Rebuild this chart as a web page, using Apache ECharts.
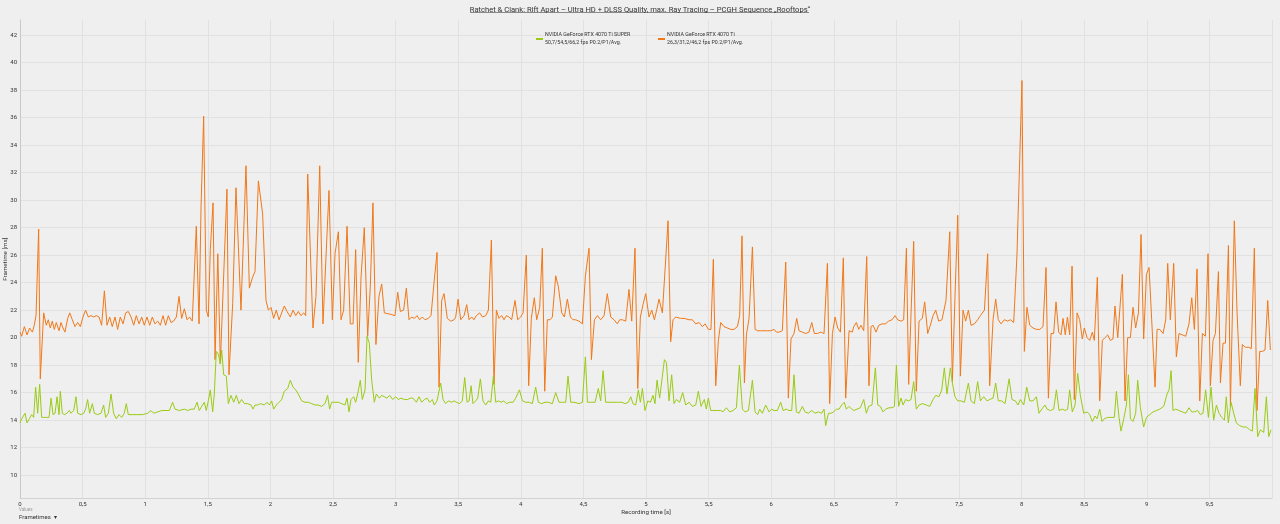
<!DOCTYPE html>
<html><head><meta charset="utf-8">
<script src="https://cdn.jsdelivr.net/npm/echarts@6/dist/echarts.min.js"></script>
<style>html,body{margin:0;padding:0;background:#efefef}#c{width:1280px;height:524px}</style>
</head><body><div id="c"></div>
<script>
const titleText = 'Ratchet & Clank: Rift Apart – Ultra HD + DLSS Quality, max. Ray Tracing – PCGH Sequence „Rooftops“';
const seriesNames = ['NVIDIA GeForce RTX 4070 Ti SUPER', 'NVIDIA GeForce RTX 4070 Ti'];
const seriesStats = ['50,7/54,5/66,2 fps P0.2/P1/Avg.', '26,3/31,2/46,2 fps P0.2/P1/Avg.'];
const yTicks = [10,12,14,16,18,20,22,24,26,28,30,32,34,36,38,40,42];

const orangeT = [0.000,0.013,0.035,0.056,0.077,0.099,0.114,0.128,0.149,0.162,0.189,0.210,0.226,0.242,0.258,0.274,0.290,0.312,0.327,0.343,0.359,0.381,0.397,0.418,0.439,0.461,0.482,0.503,0.524,0.546,0.567,0.588,0.610,0.631,0.652,0.674,0.695,0.716,0.737,0.759,0.780,0.801,0.823,0.844,0.865,0.887,0.908,0.929,0.951,0.972,0.993,1.014,1.036,1.057,1.078,1.100,1.121,1.142,1.163,1.185,1.206,1.227,1.249,1.270,1.291,1.313,1.334,1.355,1.376,1.408,1.430,1.446,1.467,1.488,1.504,1.520,1.542,1.558,1.580,1.600,1.653,1.669,1.699,1.725,1.765,1.805,1.832,1.858,1.877,1.904,1.938,1.965,1.984,2.005,2.026,2.047,2.069,2.090,2.111,2.133,2.159,2.181,2.202,2.223,2.244,2.266,2.282,2.298,2.340,2.364,2.394,2.420,2.468,2.495,2.516,2.543,2.564,2.585,2.612,2.638,2.660,2.681,2.702,2.724,2.750,2.777,2.798,2.819,2.843,2.867,2.889,2.910,2.958,2.995,3.017,3.038,3.064,3.086,3.107,3.128,3.150,3.171,3.192,3.213,3.235,3.261,3.283,3.309,3.331,
3.347,3.368,3.387,3.413,3.440,3.467,3.480,3.499,3.520,3.547,3.568,3.587,3.608,3.626,3.645,3.672,3.693,3.720,3.741,3.765,3.786,3.805,3.826,3.847,3.866,3.885,3.906,3.927,3.954,3.975,3.999,4.018,4.044,4.063,4.084,4.108,4.127,4.151,4.172,4.191,4.212,4.234,4.252,4.279,4.300,4.327,4.348,4.372,4.396,4.417,4.438,4.465,4.492,4.516,4.545,4.564,4.588,4.612,4.638,4.665,4.691,4.718,4.745,4.771,4.790,4.811,4.838,4.864,4.886,4.912,4.934,4.955,4.976,4.998,5.024,5.046,5.067,5.085,5.104,5.131,5.176,5.197,5.216,5.237,5.277,5.304,5.344,5.370,5.397,5.424,5.450,5.472,5.498,5.519,5.538,5.557,5.578,5.597,5.623,5.650,5.677,5.703,5.730,5.748,5.767,5.786,5.802,5.823,5.850,5.871,5.892,5.916,5.943,5.969,5.996,6.023,6.041,6.063,6.089,6.116,6.137,6.158,6.182,6.204,6.222,6.249,6.276,6.302,6.324,6.345,6.369,6.395,6.422,6.449,6.467,6.489,6.510,6.531,6.553,6.576,6.595,6.622,6.648,
6.659,6.680,6.699,6.717,6.739,6.763,6.781,6.797,6.813,6.837,6.859,6.885,6.912,6.938,6.965,6.989,7.010,7.037,7.058,7.080,7.098,7.117,7.138,7.159,7.181,7.207,7.226,7.250,7.271,7.293,7.314,7.338,7.364,7.396,7.426,7.447,7.468,7.490,7.511,7.532,7.553,7.575,7.596,7.623,7.649,7.671,7.703,7.729,7.745,7.772,7.793,7.814,7.836,7.862,7.889,7.910,7.937,7.963,7.985,8.003,8.022,8.043,8.065,8.091,8.118,8.145,8.171,8.195,8.214,8.235,8.256,8.275,8.296,8.315,8.331,8.349,8.366,8.384,8.403,8.421,8.443,8.464,8.485,8.501,8.523,8.544,8.565,8.581,8.605,8.624,8.645,8.666,8.688,8.709,8.730,8.746,8.768,8.783,8.805,8.826,8.847,8.869,8.890,8.911,8.933,8.954,8.975,8.997,9.018,9.039,9.066,9.082,9.103,9.130,9.151,9.167,9.188,9.215,9.236,9.257,9.284,9.311,9.337,9.359,9.380,9.401,9.423,9.444,9.468,9.489,9.508,9.529,9.548,9.572,9.588,9.609,9.628,9.652,9.668,9.699,9.721,9.747,9.763,9.787,9.814,9.835,9.859,9.880,9.902,9.923,9.944,9.966,9.987];
const orangeV = [20.4,20.1,20.8,20.2,20.7,20.4,20.9,21.6,27.9,17.0,21.8,20.9,21.3,20.7,21.2,20.6,21.1,20.5,21.1,20.7,20.4,21.4,21.8,21.3,20.8,21.1,20.8,21.5,22.0,21.5,21.6,21.5,21.6,21.5,20.9,23.4,20.9,21.5,20.8,21.5,20.6,21.5,21.0,21.8,21.9,21.5,20.9,21.6,21.0,21.5,20.9,21.5,20.9,21.5,21.0,21.2,20.9,21.6,20.9,21.6,21.1,21.2,21.5,23.0,21.4,22.1,21.3,21.5,21.2,28.1,21.0,29.5,36.1,22.0,21.5,26.4,29.8,18.4,26.1,18.1,30.8,17.3,22.5,30.9,22.0,32.5,23.6,24.4,24.8,31.4,29.0,22.7,22.0,22.2,21.4,22.0,21.3,21.8,22.3,21.9,21.5,22.0,21.6,21.9,21.6,21.8,21.6,31.9,20.7,23.0,32.5,21.0,30.7,21.3,26.1,27.7,21.3,22.0,28.1,21.0,21.0,26.4,18.2,24.4,28.0,20.1,23.7,29.8,19.5,23.0,23.9,21.8,21.7,21.6,23.3,21.9,22.0,23.6,21.3,21.5,21.4,21.6,21.3,21.5,21.3,21.4,21.6,24.2,26.2,
16.4,22.7,23.2,21.4,21.2,21.3,21.5,22.8,21.3,21.6,22.4,21.3,21.5,21.3,21.6,21.8,21.5,21.6,22.0,27.1,16.6,22.0,21.4,21.6,21.3,21.6,21.5,21.3,22.7,21.3,21.5,21.8,26.0,16.5,21.4,22.9,21.3,22.2,26.5,16.1,21.3,21.3,21.5,24.5,23.7,21.8,21.5,22.8,21.5,21.3,21.3,21.2,21.0,24.5,26.5,18.4,21.3,21.6,21.3,21.6,23.2,21.5,21.3,21.0,21.3,21.3,21.2,23.5,21.2,26.5,16.3,21.5,22.4,23.2,21.5,22.0,21.3,22.0,22.8,21.8,28.5,19.7,21.3,21.5,21.4,21.4,21.3,21.3,21.0,21.1,20.8,21.0,20.6,20.6,25.7,16.5,19.8,21.1,20.8,20.7,20.6,20.6,20.8,21.6,27.4,16.7,20.2,21.4,26.6,20.6,20.5,20.5,20.5,20.5,20.5,20.6,20.4,20.4,20.5,25.5,15.6,19.9,20.3,21.4,20.5,20.4,20.3,20.4,21.1,20.3,20.3,20.4,20.3,25.4,15.2,20.3,21.5,20.7,20.4,25.8,15.6,20.5,20.4,
20.8,21.1,20.6,20.9,20.5,25.9,16.5,20.8,20.9,20.4,20.9,21.0,21.0,21.2,21.3,21.6,21.3,21.2,21.3,26.5,16.6,21.8,27.0,16.1,21.2,21.4,22.6,20.3,20.9,21.6,22.0,21.2,21.3,22.7,27.7,16.8,23.0,28.9,17.2,22.0,21.2,22.0,20.9,21.0,21.3,21.6,22.0,26.1,16.5,21.3,22.8,21.3,21.0,21.3,21.2,21.3,21.1,26.0,33.0,38.7,19.0,22.2,20.9,20.7,20.6,20.6,20.8,25.1,15.6,20.3,20.3,22.6,20.4,20.2,21.4,20.2,21.5,20.2,25.2,15.5,21.8,21.3,19.9,20.7,20.0,19.8,20.4,19.8,24.4,15.4,19.8,20.0,20.2,19.8,19.9,22.3,20.0,19.9,24.6,15.4,20.0,20.0,22.2,20.7,21.8,27.5,19.9,24.6,25.1,21.3,16.4,20.6,20.6,20.3,21.3,25.4,21.3,25.4,18.6,20.3,20.2,20.1,21.0,22.9,20.6,25.0,15.4,20.3,20.1,26.1,16.5,19.8,20.3,24.8,16.7,19.6,19.6,26.7,15.0,28.5,21.8,16.5,19.5,19.3,19.3,19.2,26.5,14.7,19.0,19.0,19.1,22.7,19.1];

const greenT = [0.000,0.008,0.021,0.040,0.056,0.075,0.093,0.109,0.125,0.141,0.157,0.173,0.194,0.216,0.232,0.248,0.264,0.280,0.296,0.312,0.322,0.338,0.354,0.375,0.394,0.407,0.429,0.447,0.461,0.487,0.509,0.524,0.540,0.556,0.578,0.594,0.620,0.647,0.668,0.684,0.706,0.727,0.748,0.769,0.791,0.812,0.833,0.849,0.865,0.900,0.940,0.980,1.020,1.046,1.068,1.100,1.132,1.166,1.193,1.219,1.238,1.273,1.313,1.339,1.366,1.392,1.414,1.432,1.451,1.472,1.488,1.504,1.520,1.539,1.552,1.568,1.584,1.600,1.611,1.627,1.648,1.664,1.685,1.707,1.728,1.749,1.770,1.792,1.818,1.845,1.861,1.877,1.898,1.920,1.952,1.973,1.992,2.010,2.026,2.047,2.069,2.090,2.111,2.138,2.159,2.181,2.202,2.223,2.250,2.276,2.303,2.330,2.356,2.383,2.409,2.436,2.457,2.473,2.489,2.516,2.543,2.569,2.596,2.612,2.628,2.644,2.665,2.681,2.697,2.718,2.734,2.756,2.772,2.790,2.809,2.830,2.846,2.870,2.889,2.910,2.931,2.953,2.977,3.001,3.022,3.043,3.070,3.096,3.118,3.139,3.166,3.187,3.208,3.230,3.251,3.272,3.293,3.309,3.331,
3.342,3.360,3.379,3.400,3.421,3.448,3.467,3.485,3.512,3.533,3.552,3.571,3.587,3.603,3.618,3.640,3.656,3.677,3.698,3.720,3.741,3.760,3.781,3.800,3.821,3.842,3.863,3.885,3.911,3.938,3.959,3.989,4.013,4.039,4.066,4.092,4.119,4.140,4.167,4.194,4.220,4.252,4.279,4.305,4.332,4.359,4.377,4.399,4.425,4.465,4.492,4.516,4.532,4.558,4.593,4.619,4.638,4.657,4.678,4.705,4.745,4.779,4.806,4.833,4.859,4.878,4.896,4.918,4.939,4.955,4.971,4.992,5.014,5.035,5.056,5.072,5.088,5.109,5.131,5.147,5.163,5.184,5.205,5.224,5.243,5.269,5.293,5.317,5.344,5.370,5.397,5.418,5.440,5.466,5.482,5.498,5.517,5.543,5.570,5.597,5.615,5.642,5.668,5.695,5.722,5.746,5.770,5.791,5.818,5.850,5.871,5.892,5.908,5.929,5.956,5.983,6.004,6.023,6.049,6.076,6.095,6.121,6.142,6.164,6.182,6.201,6.222,6.249,6.270,6.297,6.324,6.350,6.377,6.403,6.422,6.435,6.457,6.478,6.499,6.520,6.542,6.563,6.584,6.600,6.622,6.643,
6.659,6.686,6.712,6.739,6.760,6.779,6.805,6.832,6.851,6.872,6.893,6.914,6.941,6.965,6.984,7.000,7.018,7.037,7.053,7.074,7.096,7.117,7.138,7.159,7.181,7.207,7.239,7.266,7.293,7.314,7.340,7.362,7.383,7.404,7.431,7.447,7.468,7.490,7.516,7.543,7.575,7.596,7.623,7.649,7.671,7.697,7.724,7.745,7.772,7.793,7.814,7.841,7.868,7.900,7.923,7.950,7.971,7.990,8.017,8.041,8.065,8.091,8.118,8.139,8.161,8.187,8.203,8.230,8.256,8.278,8.299,8.326,8.347,8.368,8.384,8.405,8.427,8.448,8.469,8.496,8.523,8.544,8.565,8.587,8.603,8.624,8.642,8.661,8.688,8.714,8.741,8.757,8.778,8.794,8.816,8.837,8.853,8.869,8.890,8.911,8.927,8.949,8.975,8.997,9.023,9.050,9.077,9.103,9.135,9.162,9.178,9.194,9.209,9.231,9.257,9.284,9.311,9.337,9.359,9.380,9.407,9.428,9.449,9.470,9.492,9.513,9.534,9.556,9.577,9.598,9.620,9.635,9.651,9.673,9.694,9.715,9.742,9.769,9.795,9.822,9.843,9.864,9.886,9.907,9.934,9.955,9.974,9.992];
const greenV = [13.8,14.0,13.9,14.5,13.8,14.1,14.4,14.2,16.4,14.5,16.6,14.2,14.2,14.2,14.2,15.6,14.4,14.5,15.7,14.4,16.1,14.5,14.4,14.5,14.7,14.5,14.7,15.7,14.5,14.4,14.5,14.8,15.5,14.5,15.2,14.5,14.4,14.5,15.1,14.2,14.5,15.9,14.5,14.1,14.4,14.2,14.5,15.2,14.4,14.4,14.4,14.4,14.5,14.7,14.5,14.6,14.7,14.7,14.7,15.3,14.8,14.7,14.8,14.7,14.8,14.8,15.3,14.7,15.0,15.3,14.7,15.4,16.2,14.6,15.9,19.0,18.8,18.1,19.1,17.3,17.2,15.2,15.8,15.3,15.8,15.2,15.5,15.2,15.2,15.1,14.8,15.1,15.1,15.2,15.1,15.3,15.1,15.4,14.8,15.1,15.3,15.5,16.1,16.3,16.9,16.4,16.2,15.9,15.4,15.3,15.3,15.2,15.1,15.1,15.0,15.2,15.8,14.8,15.3,15.3,15.3,15.2,15.1,15.6,14.6,15.5,15.7,15.3,15.9,16.9,15.5,16.2,20.1,19.6,16.9,15.3,15.9,15.6,15.8,15.7,15.6,15.8,15.5,15.7,15.5,15.6,15.5,15.5,15.6,15.6,15.3,15.7,15.3,15.5,15.6,15.3,15.5,15.1,15.4,
15.3,16.7,15.5,15.2,15.4,15.3,15.4,15.3,15.2,15.4,17.1,15.3,15.4,16.5,15.2,15.4,15.6,17.0,15.4,15.1,15.4,15.3,17.2,15.3,15.4,15.3,15.4,15.2,15.3,15.3,15.6,16.2,15.4,15.3,15.3,15.2,16.4,15.3,15.2,15.3,15.3,15.2,16.0,15.3,15.3,15.3,17.2,15.3,15.3,15.2,15.3,18.6,15.3,15.3,15.3,16.3,15.4,17.6,15.3,15.3,15.3,15.3,15.3,15.2,15.3,15.7,15.2,15.1,16.2,15.3,16.3,14.7,15.4,15.3,15.8,15.2,16.9,15.6,17.2,18.4,18.2,15.4,17.3,15.2,15.5,15.3,16.0,15.1,15.3,15.0,15.1,16.1,15.0,15.5,14.8,15.6,14.7,14.7,14.7,14.7,14.6,14.9,14.6,14.7,14.9,18.0,14.8,14.6,14.7,16.9,14.6,14.4,14.8,14.5,15.1,14.6,14.8,14.7,14.7,15.3,14.7,14.8,14.7,14.7,17.3,14.6,14.5,15.0,14.6,14.5,14.7,14.5,14.6,14.5,14.8,13.6,14.5,14.5,14.6,14.8,14.8,15.1,15.3,14.8,15.0,14.8,
14.7,14.8,14.9,15.5,14.5,15.0,15.1,17.8,15.1,15.0,14.6,14.8,14.9,14.9,15.0,18.0,15.0,15.6,15.1,15.5,15.4,15.5,16.8,14.8,15.1,15.2,15.1,15.0,15.5,15.8,15.7,16.2,17.8,15.9,17.8,16.7,15.7,15.4,15.4,15.3,16.7,15.4,15.2,16.8,15.4,15.7,15.4,15.5,15.6,16.7,15.4,15.4,15.2,17.0,15.5,15.4,15.1,15.5,15.1,16.4,15.4,15.4,15.7,14.5,14.8,15.1,14.8,14.7,14.8,16.2,14.7,14.8,14.7,14.8,16.2,14.6,15.1,17.4,15.8,14.5,14.6,14.4,13.9,14.3,14.1,14.8,13.9,14.1,14.2,14.2,14.2,16.1,14.2,13.2,14.1,15.1,17.3,14.1,13.9,14.5,16.9,14.9,13.5,14.2,14.4,14.6,14.7,14.8,15.0,15.9,16.2,17.6,14.7,14.8,14.7,14.6,14.5,14.9,14.6,14.6,14.7,14.4,14.5,16.2,14.2,16.4,14.0,15.1,14.5,14.2,14.0,15.7,13.8,15.3,14.5,13.8,13.6,13.5,13.5,13.3,13.2,16.3,12.8,13.3,13.1,15.7,12.8,13.3];

const zip = (t, v) => t.map((x, i) => [x, v[i]]);
const fmtNum = v => String(v).replace('.', ',');
const FONT = 'Roboto, "Noto Sans", sans-serif';
const colors = ['#9acb14', '#f27818'];

const chart = echarts.init(document.getElementById('c'), null, {renderer: 'canvas'});
const legendBase = (name, left) => ({
  data: [name], left: left, top: 26, orient: 'vertical',
  icon: 'rect', itemWidth: 7, itemHeight: 2, itemGap: 0,
  selectedMode: false,
  formatter: n => n + '\n' + seriesStats[seriesNames.indexOf(n)],
  textStyle: {fontFamily: FONT, fontSize: 5.3, lineHeight: 8, color: '#333', padding: [0,0,0,-3]}
});
chart.setOption({
  backgroundColor: '#efefef',
  animation: false,
  title: {
    text: titleText, left: 'center', top: 1,
    textStyle: {fontFamily: FONT, fontSize: 7.6, fontWeight: 'normal', color: '#333'}
  },
  legend: [legendBase(seriesNames[0], 531), legendBase(seriesNames[1], 653)],
  graphic: [
    {type: 'line', shape: {x1: 470, y1: 12.5, x2: 809, y2: 12.5}, style: {stroke: '#8a8a8a', lineWidth: 1}, silent: true},
    {type: 'text', left: 19, top: 507, style: {text: 'Values', fontFamily: FONT, fontSize: 4.5, fill: '#999'}},
    {type: 'text', left: 19, top: 514, style: {text: 'Frametimes  ▾', fontFamily: FONT, fontSize: 6, fill: '#333'}}
  ],
  grid: {left: 20, right: 8, top: 20, bottom: 25.5, containLabel: false, outerBoundsMode: 'none'},
  xAxis: {
    type: 'value', min: 0, max: 10, interval: 0.5,
    name: 'Recording time [s]', nameLocation: 'middle', nameGap: 11, nameMoveOverlap: false,
    nameTextStyle: {fontFamily: FONT, fontSize: 6.2, color: '#333'},
    axisLine: {show: true, lineStyle: {color: '#d2d2d2', width: 1}},
    axisTick: {show: false},
    axisLabel: {fontFamily: FONT, fontSize: 6, color: '#333', margin: 3, showMaxLabel: false, formatter: fmtNum},
    splitLine: {show: true, lineStyle: {color: '#e1e1e1', width: 1}}
  },
  yAxis: {
    type: 'value', min: 8.3, max: 43.1,
    name: 'Frametime [ms]', nameLocation: 'middle', nameGap: 12, nameRotate: 90, nameMoveOverlap: false,
    nameTextStyle: {fontFamily: FONT, fontSize: 6.2, color: '#333'},
    axisLine: {show: true, lineStyle: {color: '#c8c8c8', width: 1}},
    axisTick: {show: false, customValues: yTicks},
    axisLabel: {fontFamily: FONT, fontSize: 6, color: '#333', margin: 3, customValues: yTicks},
    splitLine: {show: true, lineStyle: {color: '#e1e1e1', width: 1}}
  },
  series: [
    {name: seriesNames[0], type: 'line', data: zip(greenT, greenV), showSymbol: false, z: 3,
     lineStyle: {color: colors[0], width: 1}, itemStyle: {color: colors[0]}},
    {name: seriesNames[1], type: 'line', data: zip(orangeT, orangeV), showSymbol: false, z: 2,
     lineStyle: {color: colors[1], width: 1}, itemStyle: {color: colors[1]}}
  ]
});
</script></body></html>
